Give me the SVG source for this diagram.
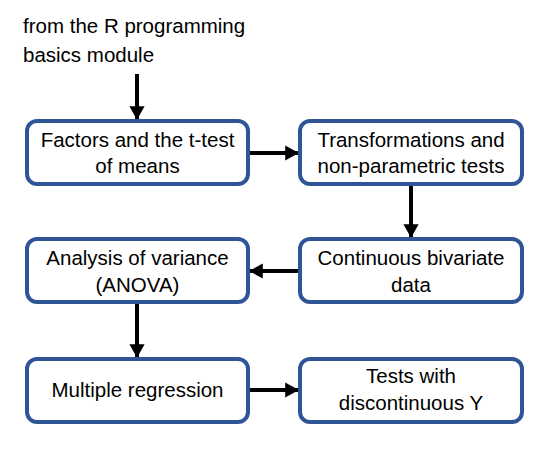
<svg xmlns="http://www.w3.org/2000/svg" width="547" height="449" viewBox="0 0 547 449">
<defs>
<marker id="ah" markerWidth="3.5" markerHeight="4" refX="3.2" refY="1.9" orient="auto" markerUnits="strokeWidth">
<path d="M0,0 L3.4,1.9 L0,3.8 Z" fill="#000"/>
</marker>
<style>
.box{fill:#fff;stroke:#2F5597;stroke-width:4}
.t{font-family:"Liberation Sans",Arial,sans-serif;font-size:20.5px;fill:#000;text-anchor:middle}
.h{font-family:"Liberation Sans",Arial,sans-serif;font-size:20.5px;fill:#000}
.c{stroke:#000;stroke-width:4;fill:none;marker-end:url(#ah)}
</style>
</defs>
<rect width="547" height="449" fill="#fff"/>
<g id="source">
<text class="h" x="23" y="33">from the R programming</text>
<text class="h" x="23" y="62">basics module</text>
</g>
<g id="connectors">
<line class="c" x1="137" y1="74" x2="137" y2="119"/>
<line class="c" x1="250" y1="153" x2="298" y2="153"/>
<line class="c" x1="411" y1="186" x2="411" y2="237"/>
<line class="c" x1="298" y1="271" x2="250" y2="271"/>
<line class="c" x1="137" y1="304" x2="137" y2="357"/>
<line class="c" x1="250" y1="390" x2="298" y2="390"/>
</g>
<g id="n1">
<rect class="box" x="27" y="121" width="221" height="63" rx="10"/>
<text class="t" x="137.5" y="147">Factors and the t-test</text>
<text class="t" x="137.5" y="173">of means</text>
</g>
<g id="n2">
<rect class="box" x="300" y="121" width="222" height="63" rx="10"/>
<text class="t" x="411" y="147">Transformations and</text>
<text class="t" x="411" y="173">non-parametric tests</text>
</g>
<g id="n3">
<rect class="box" x="300" y="239" width="222" height="63" rx="10"/>
<text class="t" x="411" y="265">Continuous bivariate</text>
<text class="t" x="411" y="292">data</text>
</g>
<g id="n4">
<rect class="box" x="27" y="239" width="221" height="63" rx="10"/>
<text class="t" x="137.5" y="265">Analysis of variance</text>
<text class="t" x="137.5" y="292">(ANOVA)</text>
</g>
<g id="n5">
<rect class="box" x="27" y="359" width="221" height="63" rx="10"/>
<text class="t" x="137.5" y="397">Multiple regression</text>
</g>
<g id="n6">
<rect class="box" x="300" y="359" width="222" height="63" rx="10"/>
<text class="t" x="411" y="383">Tests with</text>
<text class="t" x="411" y="410">discontinuous Y</text>
</g>
</svg>
